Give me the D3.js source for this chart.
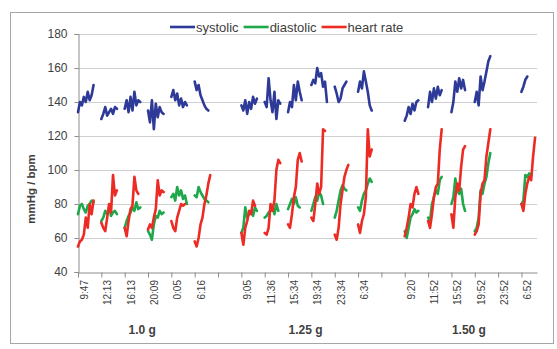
<!DOCTYPE html>
<html>
<head>
<meta charset="utf-8">
<script src="https://cdn.jsdelivr.net/npm/d3@7"></script>
<style>
  body { margin: 0; background: #fff; }
  text { font-family: "Liberation Sans", Arial, sans-serif; fill: #404040; }
</style>
</head>
<body>
<div id="chart"></div>
<script>
// Category labels (one slot per session, blank slot between doses)
const timeLabels = [
  '9:47', '12:13', '16:13', '20:09', '0:05', '6:16', '',
  '9:05', '11:36', '15:34', '19:34', '23:34', '6:34', '',
  '9:20', '11:52', '15:52', '19:52', '23:52', '6:52'
];
const doseLabels = ['1.0 g', '1.25 g', '1.50 g'];
const yTicks = [40, 60, 80, 100, 120, 140, 160, 180];
const seriesNames = ['systolic', 'diastolic', 'heart rate'];

// Readings per session, dose 1.0 g
const systolic10 = [
  [134, 140, 138, 143, 140, 146, 141, 144, 150],
  [130, 133, 137, 132, 134, 136, 133, 137, 136],
  [136, 141, 134, 143, 135, 146, 138, 141, 140],
  [135, 128, 141, 124, 139, 131, 137, 134, 133],
  [143, 147, 141, 145, 138, 142, 137, 140, 138],
  [152, 147, 150, 144, 141, 138, 136, 135]
];
const diastolic10 = [
  [74, 79, 80, 77, 75, 79, 80, 82, 81],
  [70, 72, 76, 74, 78, 73, 75, 76, 74],
  [66, 70, 73, 75, 78, 76, 81, 77, 78],
  [64, 62, 59, 68, 73, 72, 76, 74, 75],
  [84, 86, 82, 90, 85, 88, 83, 85, 80],
  [85, 84, 90, 87, 85, 83, 82, 81]
];
const heartRate10 = [
  [55, 58, 59, 62, 72, 66, 80, 74, 82],
  [69, 66, 64, 72, 80, 75, 97, 85, 88],
  [66, 61, 70, 77, 79, 96, 88, 86],
  [65, 68, 66, 72, 77, 94, 85, 88, 87],
  [70, 66, 64, 72, 76, 80, 79, 80],
  [58, 55, 60, 68, 72, 80, 85, 92, 97]
];

// Dose 1.25 g
const systolic125 = [
  [138, 135, 141, 133, 140, 136, 143, 139, 142],
  [140, 137, 154, 141, 134, 146, 130, 141, 139],
  [134, 140, 137, 150, 141, 152, 146, 141],
  [150, 153, 151, 160, 155, 157, 149, 152, 140],
  [149, 145, 140, 142, 148, 150, 152],
  [146, 152, 148, 158, 152, 146, 138, 135]
];
const diastolic125 = [
  [63, 66, 78, 72, 74, 76, 73, 78, 76],
  [72, 73, 75, 76, 79, 74, 80, 76],
  [77, 80, 83, 80, 84, 79, 78],
  [76, 80, 84, 82, 87, 85, 80],
  [72, 76, 82, 88, 91, 89, 88],
  [78, 76, 82, 86, 88, 92, 95, 93]
];
const heartRate125 = [
  [63, 56, 66, 70, 76, 74, 82, 79],
  [63, 62, 66, 80, 76, 82, 100, 106, 104],
  [68, 66, 74, 84, 90, 106, 110, 105],
  [72, 70, 80, 92, 86, 90, 124, 123],
  [62, 59, 66, 80, 88, 96, 100, 103],
  [68, 63, 70, 74, 84, 124, 108, 112]
];

// Dose 1.50 g (no readings for the 23:52 session)
const systolic150 = [
  [129, 132, 137, 133, 139, 135, 140, 141],
  [137, 146, 140, 148, 142, 149, 144, 147],
  [134, 140, 152, 146, 154, 148, 153, 147],
  [140, 146, 138, 155, 147, 152, 158, 164, 167],
  [],
  [146, 149, 153, 155]
];
const diastolic150 = [
  [64, 60, 66, 72, 74, 77, 75, 76],
  [72, 70, 80, 84, 88, 86, 94, 96],
  [80, 84, 95, 88, 86, 89, 80, 76],
  [64, 66, 72, 88, 86, 92, 96, 104, 110],
  [],
  [80, 82, 97, 96, 98, 97]
];
const heartRate150 = [
  [61, 66, 72, 80, 78, 86, 90, 86],
  [70, 66, 74, 84, 90, 92, 112, 124],
  [74, 66, 84, 92, 88, 102, 112, 114],
  [62, 64, 68, 86, 92, 94, 108, 116, 124],
  [],
  [80, 76, 86, 92, 96, 94, 108, 119]
];

const width = 557, height = 349;
const margin = { top: 34, right: 20, bottom: 77, left: 78 };
const slotSize = 12;      // categories per session slot
const nCats = 236;        // total categories on the x axis
const colors = ['#2e3a97', '#1ea84b', '#ec2b24'];

const svg = d3.select('#chart').append('svg')
  .attr('width', width)
  .attr('height', height);

// chart frame
svg.append('rect')
  .attr('x', 10.5).attr('y', 12.5)
  .attr('width', 543).attr('height', 331)
  .attr('fill', '#fff')
  .attr('stroke', '#a6a6a6');

const x = d3.scaleLinear().domain([0, nCats]).range([margin.left, width - margin.right]);
const y = d3.scaleLinear().domain([40, 180]).range([height - margin.bottom, margin.top]);
const plotBottom = y(40);

// horizontal gridlines
svg.append('g')
  .selectAll('line')
  .data(yTicks.filter(d => d > 40))
  .enter()
  .append('line')
  .attr('x1', x(0))
  .attr('x2', x(nCats))
  .attr('y1', d => Math.round(y(d)) + 0.5)
  .attr('y2', d => Math.round(y(d)) + 0.5)
  .attr('stroke', '#d0d0d0')
  .attr('stroke-width', 1);

// y axis
const yAxis = svg.append('g')
  .attr('transform', `translate(${x(0) + 0.5},0)`)
  .call(d3.axisLeft(y).tickValues(yTicks).tickSize(4).tickPadding(7));
yAxis.selectAll('path, line').attr('stroke', '#8c8c8c');
yAxis.selectAll('text').style('font-size', '12px').attr('fill', '#404040');

// x axis tick marks at slot boundaries
const tickIdx = d3.range(0, nCats, slotSize);
const xAxis = svg.append('g')
  .attr('transform', `translate(0,${Math.round(plotBottom) + 0.5})`)
  .call(d3.axisBottom(x).tickValues(tickIdx).tickFormat('').tickSize(5).tickSizeOuter(0));
xAxis.selectAll('path, line').attr('stroke', '#8c8c8c');

// session time labels (rotated)
const labelIdx = timeLabels.map((d, k) => k * slotSize + 3);
const xLabels = svg.append('g')
  .attr('transform', `translate(0,${Math.round(plotBottom)})`)
  .call(d3.axisBottom(x).tickValues(labelIdx).tickFormat((d, k) => timeLabels[k]).tickSize(0));
xLabels.select('.domain').remove();
xLabels.selectAll('text')
  .style('font-size', '10px')
  .attr('fill', '#404040')
  .attr('transform', 'rotate(-90)')
  .attr('text-anchor', 'end')
  .attr('x', -8)
  .attr('y', 0)
  .attr('dy', '0.35em');

// dose labels centred under their sessions
doseLabels.forEach((lab, d) => {
  const first = labelIdx[d * 7];
  const last = labelIdx[d * 7 + 5];
  svg.append('text')
    .attr('x', (x(first) + x(last)) / 2)
    .attr('y', 334)
    .attr('text-anchor', 'middle')
    .style('font-size', '12px')
    .style('font-weight', 'bold')
    .text(lab);
});

// y axis title
svg.append('text')
  .attr('transform', 'translate(35,189) rotate(-90)')
  .attr('text-anchor', 'middle')
  .style('font-size', '11.5px')
  .style('font-weight', 'bold')
  .text('mmHg / bpm');

// flatten sessions into one series with breaks between sessions
function flatten(doses) {
  const pts = [];
  doses.forEach((sessions, d) => {
    sessions.forEach((vals, j) => {
      const base = (d * 7 + j) * slotSize;
      vals.forEach((v, i) => pts.push({ i: base + i, v: v }));
      pts.push({ i: base + vals.length, v: null });
    });
  });
  return pts;
}

const series = [
  flatten([systolic10, systolic125, systolic150]),
  flatten([diastolic10, diastolic125, diastolic150]),
  flatten([heartRate10, heartRate125, heartRate150])
];

const line = d3.line()
  .defined(d => d.v != null)
  .x(d => x(d.i))
  .y(d => y(d.v));

series.forEach((pts, s) => {
  svg.append('path')
    .datum(pts)
    .attr('fill', 'none')
    .attr('stroke', colors[s])
    .attr('stroke-width', 2.6)
    .attr('stroke-linejoin', 'round')
    .attr('stroke-linecap', 'round')
    .attr('d', line);
});

// legend
const legend = svg.append('g').attr('transform', 'translate(170,27)');
let lx = 0;
seriesNames.forEach((name, s) => {
  legend.append('line')
    .attr('x1', lx).attr('x2', lx + 25)
    .attr('y1', 0).attr('y2', 0)
    .attr('stroke', colors[s])
    .attr('stroke-width', 2.6);
  const t = legend.append('text')
    .attr('x', lx + 26)
    .attr('y', 0)
    .attr('dy', '0.35em')
    .style('font-size', '13px')
    .text(name);
  lx += 26 + t.node().getComputedTextLength() + 5;
});
</script>
</body>
</html>
